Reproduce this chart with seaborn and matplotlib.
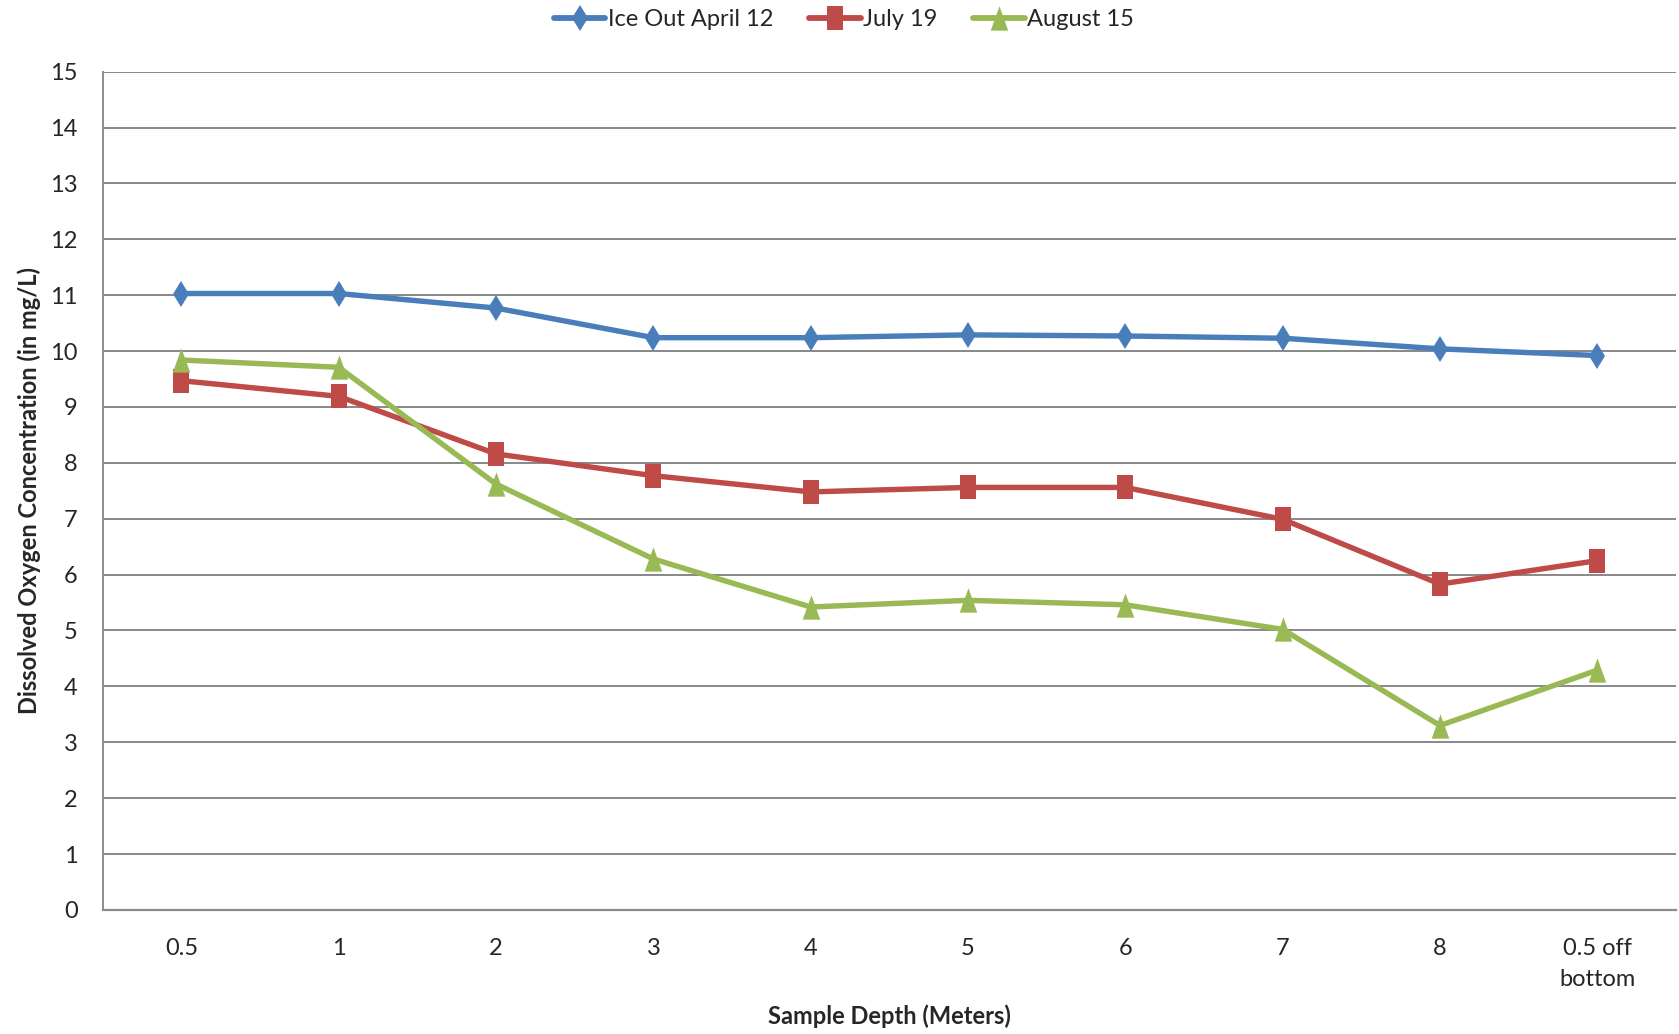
import matplotlib
matplotlib.use("Agg")
import matplotlib.pyplot as plt
import seaborn as sns
import pandas as pd
import numpy as np

categories = ["0.5", "1", "2", "3", "4", "5", "6", "7", "8", "0.5 off\nbottom"]
ice_out_april_12 = [11.03, 11.03, 10.77, 10.24, 10.24, 10.29, 10.27, 10.23, 10.04, 9.92]
july_19 = [9.47, 9.19, 8.16, 7.77, 7.48, 7.56, 7.56, 6.99, 5.83, 6.25]
august_15 = [9.84, 9.71, 7.62, 6.28, 5.42, 5.54, 5.46, 5.02, 3.30, 4.29]
series_names = ["Ice Out April 12", "July 19", "August 15"]
y_ticks = list(range(0, 16))

sns.set_theme(style="white")
plt.rcParams["font.family"] = ["Lato", "DejaVu Sans"]

rows = []
for name, vals in zip(series_names, [ice_out_april_12, july_19, august_15]):
    for i, v in enumerate(vals):
        rows.append({"pos": i, "value": v, "series": name})
df = pd.DataFrame(rows)

palette = {"Ice Out April 12": "#4A7EBB", "July 19": "#BE4B48", "August 15": "#98B954"}
tall_square = [(-0.68, -1.0), (0.68, -1.0), (0.68, 1.0), (-0.68, 1.0), (-0.68, -1.0)]
tall_triangle = [(-0.72, -1.0), (0.72, -1.0), (0.0, 1.0), (-0.72, -1.0)]
markers = {"Ice Out April 12": "d", "July 19": tall_square, "August 15": tall_triangle}
msizes = {"Ice Out April 12": 13.5, "July 19": 17.5, "August 15": 17.5}

fig = plt.figure(figsize=(16.79, 10.34), dpi=100)
ax = fig.add_axes([0.0612, 0.12, 0.937, 0.8107])

sns.lineplot(data=df, x="pos", y="value", hue="series", style="series",
             markers=markers, dashes=False, palette=palette, sort=False,
             linewidth=3.9, markersize=14, markeredgewidth=0, ax=ax,
             hue_order=series_names, style_order=series_names)

lines = ax.get_lines()
for line, name in zip(lines, series_names):
    line.set_markersize(msizes[name])

ax.set_xlim(-0.5, len(categories) - 0.5)
ax.set_ylim(0, 15)
ax.set_yticks(y_ticks)
ax.set_yticklabels([str(t) for t in y_ticks], fontsize=17)
ax.set_xticks(range(len(categories)))
ax.set_xticklabels(categories, fontsize=17, linespacing=1.6, va="top")
ax.tick_params(axis="y", length=0, pad=18)
ax.tick_params(axis="x", length=0, pad=20)

ax.grid(axis="y", color="#888888", linewidth=1.4)
ax.grid(axis="x", visible=False)
ax.set_axisbelow(True)
for s in ["top", "right"]:
    ax.spines[s].set_visible(False)
ax.spines["left"].set_color("#8c8c8c")
ax.spines["left"].set_linewidth(1.4)
ax.spines["bottom"].set_color("#8c8c8c")
ax.spines["bottom"].set_linewidth(1.6)

ax.set_xlabel("Sample Depth (Meters)", fontsize=17, fontweight="bold")
ax.xaxis.set_label_coords(0.5, -0.1265)
ax.xaxis.label.set_va("center")
ax.set_ylabel("Dissolved Oxygen Concentration (in mg/L)", fontsize=17, fontweight="bold")
ax.yaxis.set_label_coords(-0.047, 0.5)
ax.yaxis.label.set_va("center")

leg = ax.legend(loc="center", bbox_to_anchor=(0.471, 1.0617), ncol=3, frameon=False,
                fontsize=17, handlelength=2.2, handletextpad=0.1, columnspacing=1.5)
leg.set_title(None)
for h, name in zip(leg.legend_handles, series_names):
    h.set_linewidth(4.2)
    h.set_markersize(msizes[name])

fig.savefig("out.png", dpi=100)
